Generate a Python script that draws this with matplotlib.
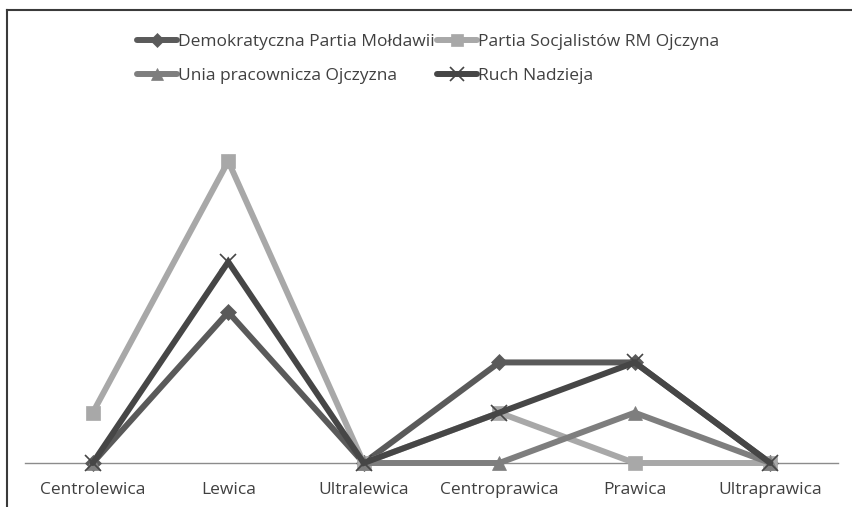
import matplotlib
matplotlib.use("Agg")
import matplotlib.pyplot as plt
import numpy as np
from matplotlib.lines import Line2D

plt.rcParams['font.family'] = ['Open Sans', 'DejaVu Sans']

categories = ["Centrolewica", "Lewica", "Ultralewica", "Centroprawica", "Prawica", "Ultraprawica"]
series_names = ["Demokratyczna Partia Mołdawii", "Partia Socjalistów RM Ojczyna",
                "Unia pracownicza Ojczyzna", "Ruch Nadzieja"]
demokratyczna = [0, 3, 0, 2, 2, 0]
socjalistow = [1, 6, 0, 1, 0, 0]
unia = [0, np.nan, 0, 0, 1, 0]
ruch = [0, 4, 0, 1, 2, 0]

colors = ["#5a5a5a", "#a8a8a8", "#7e7e7e", "#464646"]
markers = ["D", "s", "^", "x"]
msizes = [8, 10, 10, 11]

fig = plt.figure(figsize=(8.52, 5.07), dpi=100)
ax = fig.add_axes([25/852, (507-463)/507, (838-25)/852, (463-111)/507])

x = np.arange(len(categories))
all_series = [demokratyczna, socjalistow, unia, ruch]
handles = []
for i, (vals, name) in enumerate(zip(all_series, series_names)):
    h, = ax.plot(x, vals, color=colors[i], lw=4.3, marker=markers[i], ms=msizes[i],
                 markeredgewidth=1.2 if markers[i] == "x" else 0.5,
                 markeredgecolor=colors[i], markerfacecolor=colors[i],
                 label=name, solid_capstyle='round', solid_joinstyle='miter', zorder=3 + i,
                 clip_on=False)
    handles.append(h)

ax.set_xlim(-0.5, len(categories) - 0.5)
ax.set_ylim(0, 7)
ax.set_xticks(x)
ax.set_xticklabels(categories, fontsize=12.5, color="#404040")
ax.tick_params(axis='x', length=0, pad=14)
ax.set_yticks([])
for s in ["top", "right", "left"]:
    ax.spines[s].set_visible(False)
ax.spines["bottom"].set_color("#8c8c8c")
ax.spines["bottom"].set_linewidth(1.0)
ax.spines["bottom"].set_zorder(2)

order = [0, 2, 1, 3]
leg = fig.legend([handles[k] for k in order], [series_names[k] for k in order],
                 loc="upper left", bbox_to_anchor=(128/852, 1 - 25/507), ncol=2,
                 frameon=False, fontsize=12.5, handlelength=2.3, handletextpad=0.1,
                 columnspacing=0.1, labelspacing=1.05, borderpad=0, markerscale=0.9)
for t in leg.get_texts():
    t.set_color("#404040")

# chart frame (top and left edges)
fig.add_artist(Line2D([7/852, 1], [1 - 10/507, 1 - 10/507], color="#3a3a3a", lw=1.5,
                      transform=fig.transFigure))
fig.add_artist(Line2D([7/852, 7/852], [0, 1 - 10/507], color="#3a3a3a", lw=1.5,
                      transform=fig.transFigure))

fig.savefig("out.png", dpi=100)
